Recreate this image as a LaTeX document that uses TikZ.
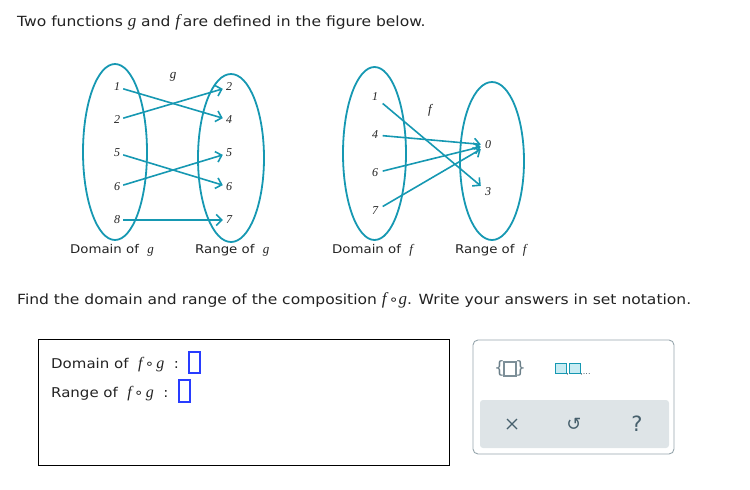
\documentclass[tikz,border=0pt]{standalone}
\usepackage{fontspec}
\setmainfont{DejaVu Sans}[FakeStretch=1.11]
\newfontfamily\plainsans{DejaVu Sans}
\newfontfamily\serifit{Liberation Serif}
\usetikzlibrary{arrows.meta}
\definecolor{tealA}{RGB}{22,152,178}
\definecolor{ink}{RGB}{34,34,34}
\definecolor{panelgray}{RGB}{150,165,172}
\definecolor{panelfill}{RGB}{222,228,231}
\definecolor{icon}{RGB}{70,95,108}
\definecolor{ansblue}{RGB}{40,60,255}
\definecolor{lightteal}{RGB}{200,236,243}
\begin{document}
\begin{tikzpicture}[x=1pt,y=-1pt,
  txt/.style={font=\fontsize{14}{16}\selectfont, anchor=base west, inner sep=0, text=ink},
  mi/.style={font=\serifit\itshape\fontsize{13}{14}\selectfont, text=ink},
  num/.style={font=\serifit\itshape\fontsize{12}{13}\selectfont, inner sep=3pt, text=ink},
  lbl/.style={font=\fontsize{12}{14}\selectfont, anchor=base west, inner sep=0, text=ink},
  oval/.style={draw=tealA, line width=1.8pt},
  arr/.style={draw=tealA, line width=1.6pt, -{Straight Barb[length=5.5pt,width=11pt]}}]
\useasboundingbox (0,0) rectangle (750,490);

% title
\node[txt] (title) at (17,26) {Two functions {\serifit\itshape\fontsize{17}{18}\selectfont g} and {\serifit\itshape\fontsize{17}{18}\selectfont f\,}are defined in the figure below.};

% ---- g diagram
\draw[oval] (115,152) ellipse [x radius=32, y radius=88];
\draw[oval] (231,158) ellipse [x radius=33, y radius=84];
\node[mi] (glab) at (173,77) {g};
\node[num] (gd1) at (117,87) {1};
\node[num] (gd2) at (117,120) {2};
\node[num] (gd5) at (117,153) {5};
\node[num] (gd6) at (117,187) {6};
\node[num] (gd8) at (117,220) {8};
\node[num] (gr2) at (229,87) {2};
\node[num] (gr4) at (229,120) {4};
\node[num] (gr5) at (229,153) {5};
\node[num] (gr6) at (229,187) {6};
\node[num] (gr7) at (229,220) {7};
\draw[arr] (gd1) -- (gr4);
\draw[arr] (gd2) -- (gr2);
\draw[arr] (gd5) -- (gr6);
\draw[arr] (gd6) -- (gr5);
\draw[arr] (gd8) -- (gr7);
\node[lbl] (gdom) at (70,253) {Domain of\ \ {\serifit\itshape\fontsize{13}{14}\selectfont g}};
\node[lbl] (gran) at (195,253) {Range of\ \ {\serifit\itshape\fontsize{13}{14}\selectfont g}};

% ---- f diagram
\draw[oval] (374.5,153.5) ellipse [x radius=31.5, y radius=86.5];
\draw[oval] (492,161) ellipse [x radius=32, y radius=79];
\node[mi] (flab) at (430,110) {f};
\node[num, inner sep=4.5pt] (fd1) at (375,97) {1};
\node[num, inner sep=4.5pt] (fd4) at (375,135) {4};
\node[num, inner sep=4.5pt] (fd6) at (375,173) {6};
\node[num, inner sep=4.5pt] (fd7) at (375,211) {7};
\node[num, inner sep=4pt] (fr0) at (488,145) {0};
\node[num, inner sep=4pt] (fr3) at (488,192) {3};
\draw[arr] (fd1) -- (fr3);
\draw[arr] (fd4) -- (fr0);
\draw[arr] (fd6) -- (fr0);
\draw[arr] (fd7) -- (fr0);
\node[lbl] (fdom) at (332,253) {Domain of\ \ {\serifit\itshape\fontsize{13}{14}\selectfont f}};
\node[lbl] (fran) at (455,253) {Range of\ \ {\serifit\itshape\fontsize{13}{14}\selectfont f}};

% question
\node[txt] (question) at (17,304) {Find the domain and range of the composition {\serifit\itshape\fontsize{17}{18}\selectfont f}\,∘{\serifit\itshape\fontsize{17}{18}\selectfont g}. Write your answers in set notation.};

% answer box
\draw[black, line width=1pt] (38,339) rectangle (449,465);
\node[lbl, font=\fontsize{13.5}{15}\selectfont] (adom) at (51,368) {Domain of\ \ {\serifit\itshape\fontsize{16}{17}\selectfont f}\,∘\,{\serifit\itshape\fontsize{16}{17}\selectfont g}\ \ :};
\draw[ansblue, line width=1.1pt] (189,352) rectangle (200,373);
\node[lbl, font=\fontsize{13.5}{15}\selectfont] (aran) at (51,397) {Range of\ \ {\serifit\itshape\fontsize{16}{17}\selectfont f}\,∘\,{\serifit\itshape\fontsize{16}{17}\selectfont g}\ \ :};
\draw[ansblue, line width=1.1pt] (179,380) rectangle (190,402);

% tool panel
\draw[panelgray, line width=0.9pt, rounded corners=5pt] (473,340) rectangle (674,454);
\fill[panelfill, rounded corners=3pt] (480,400) rectangle (669,448);
% set braces icon
\node[font=\plainsans\fontsize{17}{18}\selectfont, text=icon!80, inner sep=0] (lbrace) at (499.5,368.5) {\{};
\node[font=\plainsans\fontsize{17}{18}\selectfont, text=icon!80, inner sep=0] (rbrace) at (520.5,368.5) {\}};
\draw[icon!70, line width=1.4pt] (504,362) rectangle (516,376);
% list icon
\draw[tealA, fill=lightteal, line width=1pt] (555,363) rectangle (566,373);
\draw[tealA, fill=lightteal, line width=1pt] (569,363) rectangle (580,373);
\node[font=\plainsans\fontsize{8}{9}\selectfont, text=icon, inner sep=0, anchor=base west] (comma1) at (566.2,374) {,};
\node[font=\plainsans\fontsize{8}{9}\selectfont, text=icon, inner sep=0, anchor=base west] (dots) at (580.2,374) {,...};
% buttons
\draw[icon, line width=1.3pt] (507,419) -- (517,429) (517,419) -- (507,429);
\node[font=\plainsans\fontsize{18}{19}\selectfont, text=icon, inner sep=0] (undo) at (574,424) {↺};
\node[font=\plainsans\fontsize{21}{22}\selectfont, text=icon, inner sep=0] (help) at (637,424) {?};
\end{tikzpicture}
\end{document}
